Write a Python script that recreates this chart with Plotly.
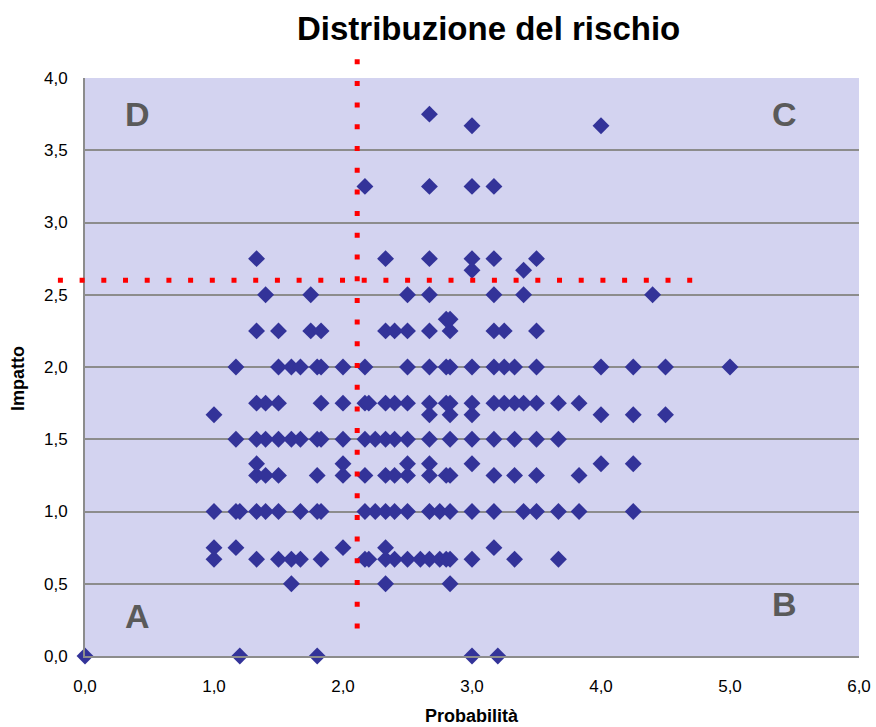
import plotly.graph_objects as go

# ---- data: probability (x) values grouped by impact (y) level ----
imp_000 = [0.0, 1.2, 1.8, 3.0, 3.2]
imp_050 = [1.6, 2.33, 2.83]
imp_067 = [1.0, 1.33, 1.5, 1.6, 1.67, 1.83, 2.17, 2.2, 2.33, 2.4, 2.5, 2.6, 2.67, 2.75, 2.8, 2.83, 3.0, 3.33, 3.67]
imp_075 = [1.0, 1.17, 2.0, 2.33, 3.17]
imp_100 = [1.0, 1.17, 1.2, 1.33, 1.4, 1.5, 1.67, 1.8, 1.83, 2.17, 2.25, 2.33, 2.4, 2.5, 2.67, 2.75, 2.83, 3.0, 3.17, 3.4, 3.5, 3.67, 3.83, 4.25]
imp_125 = [1.33, 1.4, 1.5, 1.8, 2.0, 2.17, 2.33, 2.4, 2.5, 2.67, 2.8, 2.83, 3.17, 3.33, 3.5, 3.83]
imp_133 = [1.33, 2.0, 2.5, 2.67, 3.0, 4.0, 4.25]
imp_150 = [1.17, 1.33, 1.4, 1.5, 1.6, 1.67, 1.8, 1.83, 2.0, 2.17, 2.25, 2.33, 2.4, 2.5, 2.67, 2.83, 3.0, 3.17, 3.33, 3.5, 3.67]
imp_167 = [1.0, 2.67, 2.83, 3.0, 4.0, 4.25, 4.5]
imp_175 = [1.33, 1.4, 1.5, 1.83, 2.0, 2.17, 2.2, 2.33, 2.4, 2.5, 2.67, 2.8, 2.83, 3.0, 3.17, 3.25, 3.33, 3.4, 3.5, 3.67, 3.83]
imp_200 = [1.17, 1.5, 1.6, 1.67, 1.8, 1.83, 2.0, 2.17, 2.5, 2.67, 2.8, 2.83, 3.0, 3.17, 3.25, 3.33, 3.5, 4.0, 4.25, 4.5, 5.0]
imp_225 = [1.33, 1.5, 1.75, 1.83, 2.33, 2.4, 2.5, 2.67, 2.83, 3.17, 3.25, 3.5]
imp_233 = [2.8, 2.83]
imp_250 = [1.4, 1.75, 2.5, 2.67, 3.17, 3.4, 4.4]
imp_267 = [3.0, 3.4]
imp_275 = [1.33, 2.33, 2.67, 3.0, 3.17, 3.5]
imp_325 = [2.17, 2.67, 3.0, 3.17]
imp_367 = [3.0, 4.0]
imp_375 = [2.67]

impact_levels = [0.0, 0.5, 0.67, 0.75, 1.0, 1.25, 1.33, 1.5, 1.67, 1.75,
                 2.0, 2.25, 2.33, 2.5, 2.67, 2.75, 3.25, 3.67, 3.75]
prob_rows = [imp_000, imp_050, imp_067, imp_075, imp_100, imp_125, imp_133, imp_150,
             imp_167, imp_175, imp_200, imp_225, imp_233, imp_250, imp_267, imp_275,
             imp_325, imp_367, imp_375]

# threshold lines (data units)
prob_threshold = 2.11
prob_line_extent = [0.17, 4.13]
impact_threshold = 2.60
impact_line_extent = [-0.21, 4.74]

# quadrant labels
quad_labels = ["D", "C", "A", "B"]
quad_x = [0.41, 5.42, 0.41, 5.42]
quad_y = [3.75, 3.75, 0.28, 0.36]

x_range = [0, 6]
y_range = [0, 4]
x_ticks = [0, 1, 2, 3, 4, 5, 6]
y_ticks = [0, 0.5, 1, 1.5, 2, 2.5, 3, 3.5, 4]

xs, ys = [], []
for lvl, row in zip(impact_levels, prob_rows):
    xs.extend(row)
    ys.extend([lvl] * len(row))

fig = go.Figure()
fig.add_trace(go.Scatter(
    x=xs, y=ys, mode="markers",
    marker=dict(symbol="diamond", size=13, color="#333399", line=dict(width=0)),
    cliponaxis=False, showlegend=False, hoverinfo="x+y"))

def px(v):
    return (v - x_range[0]) / (x_range[1] - x_range[0])

def py(v):
    return (v - y_range[0]) / (y_range[1] - y_range[0])

red_line = dict(color="#FF0000", width=5, dash="5px,16.7px")
fig.add_shape(type="line", xref="paper", yref="paper",
              x0=px(prob_threshold), x1=px(prob_threshold),
              y0=py(prob_line_extent[1]), y1=py(prob_line_extent[0]),
              line=red_line, layer="above")
fig.add_shape(type="line", xref="paper", yref="paper",
              x0=px(impact_line_extent[0]), x1=px(impact_line_extent[1]),
              y0=py(impact_threshold), y1=py(impact_threshold),
              line=red_line, layer="above")

for lab, qx, qy in zip(quad_labels, quad_x, quad_y):
    fig.add_annotation(x=qx, y=qy, xref="x", yref="y", text=lab, showarrow=False,
                       font=dict(family="Liberation Sans, Arial", size=34, color="#5a5a5a",
                                 weight="bold"),
                       xanchor="center", yanchor="middle")

fig.add_annotation(xref="paper", yref="paper", x=0.521, y=1.0865,
                   text="<b>Distribuzione del rischio</b>", showarrow=False,
                   font=dict(family="Liberation Sans, Arial", size=33, color="black"),
                   xanchor="center", yanchor="middle")
fig.add_annotation(xref="paper", yref="paper", x=0.5, y=-0.104,
                   text="<b>Probabilità</b>", showarrow=False,
                   font=dict(family="Liberation Sans, Arial", size=18, color="black"),
                   xanchor="center", yanchor="middle")
fig.add_annotation(xref="paper", yref="paper", x=-0.0866, y=0.481,
                   text="<b>Impatto</b>", showarrow=False, textangle=-90,
                   font=dict(family="Liberation Sans, Arial", size=18, color="black"),
                   xanchor="center", yanchor="middle")

fig.update_layout(
    width=876, height=727,
    autosize=False,
    margin=dict(l=85, r=17, t=78, b=71, autoexpand=False),
    paper_bgcolor="white",
    plot_bgcolor="rgb(211,211,240)",
    separators=",.",
    font=dict(family="Liberation Sans, Arial", size=17, color="black"),
    xaxis=dict(range=x_range, tickvals=x_ticks, tickformat=".1f",
               showgrid=False, zeroline=False, automargin=False,
               showline=True, linecolor="#8c8c8c", linewidth=2,
               ticks="outside", ticklen=14, tickcolor="rgba(0,0,0,0)",
               fixedrange=True),
    yaxis=dict(range=y_range, tickvals=y_ticks, tickformat=".1f",
               showgrid=True, gridcolor="#8c8c8c", gridwidth=1.5,
               zeroline=False, automargin=False,
               showline=True, linecolor="#8c8c8c", linewidth=2,
               ticks="outside", ticklen=12, tickcolor="rgba(0,0,0,0)",
               fixedrange=True),
)

fig.write_html("out.html")
